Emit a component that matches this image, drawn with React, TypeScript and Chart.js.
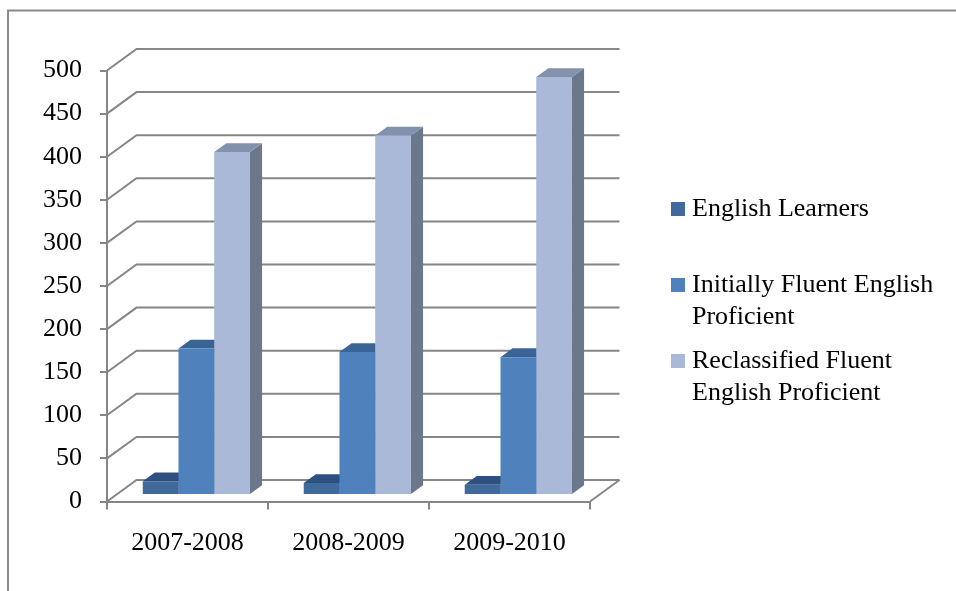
import React, { useEffect, useRef } from "react";
import { Chart, registerables } from "chart.js";

Chart.register(...registerables);

const categories = ["2007-2008", "2008-2009", "2009-2010"];
const englishLearners = [16, 14, 12];
const initiallyFluent = [170, 166, 160];
const reclassifiedFluent = [398, 417, 485];
const seriesNames = [
  "English Learners",
  "Initially Fluent English Proficient",
  "Reclassified Fluent English Proficient",
];
const legendLines = [
  ["English Learners"],
  ["Initially Fluent English", "Proficient"],
  ["Reclassified Fluent", "English Proficient"],
];
const yMin = 0;
const yMax = 500;
const yStep = 50;

const FONT = "'Liberation Serif', 'Times New Roman', serif";
const GRID = "#868686";
const FRONT = ["#40699c", "#4f81bd", "#aab9d8"];
const TOPC = ["#2e5080", "#3a6496", "#8391ad"];
const SIDE = ["#2c4a72", "#3a5f8c", "#6b778b"];

// 3D projection constants (wall depth)
const DX = 29.5;
const DY = 21.5;
const FRONT_FRAC = 0.3;
const DEPTH_FRAC = 0.41;

const poly = (ctx: CanvasRenderingContext2D, pts: number[][], color: string) => {
  ctx.beginPath();
  ctx.moveTo(pts[0][0], pts[0][1]);
  for (let i = 1; i < pts.length; i++) ctx.lineTo(pts[i][0], pts[i][1]);
  ctx.closePath();
  ctx.fillStyle = color;
  ctx.fill();
};

const depthPlugin = {
  id: "depth3d",
  beforeDatasetsDraw(chart: any) {
    const { ctx, chartArea: a } = chart;
    const ys = chart.scales.y;
    const fx = DX * FRONT_FRAC;
    const fy = DY * FRONT_FRAC;
    const bx = DX * DEPTH_FRAC;
    const by = DY * DEPTH_FRAC;
    ctx.save();
    ctx.strokeStyle = GRID;
    ctx.lineWidth = 2;
    ys.ticks.forEach((t: any) => {
      const py = ys.getPixelForValue(t.value);
      ctx.beginPath();
      ctx.moveTo(a.left, py);
      ctx.lineTo(a.left + DX, py - DY);
      ctx.lineTo(a.right + DX, py - DY);
      ctx.stroke();
    });
    const y0 = ys.getPixelForValue(0);
    ctx.beginPath();
    ctx.moveTo(a.right, y0);
    ctx.lineTo(a.right + DX, y0 - DY);
    ctx.stroke();

    const n = chart.data.labels.length;
    const nd = chart.data.datasets.length;
    for (let i = 0; i < n; i++) {
      for (let d = 0; d < nd; d++) {
        const el = chart.getDatasetMeta(d).data[i];
        const p = el.getProps(["x", "y", "base", "width"], true);
        const x1 = p.x - p.width / 2 + fx;
        const x2 = p.x + p.width / 2 + fx;
        const t = p.y - fy;
        const b = p.base - fy;
        poly(ctx, [[x2, t], [x2 + bx, t - by], [x2 + bx, b - by], [x2, b]], SIDE[d]);
        poly(ctx, [[x1, t], [x2, t], [x2 + bx, t - by], [x1 + bx, t - by]], TOPC[d]);
      }
    }
    ctx.restore();
    ctx.save();
    ctx.translate(fx, -fy);
  },
  afterDatasetsDraw(chart: any) {
    chart.ctx.restore();
  },
  afterDraw(chart: any) {
    const ctx = chart.ctx;
    ctx.save();
    // outer frame
    ctx.strokeStyle = "#8a8a8a";
    ctx.lineWidth = 2;
    ctx.beginPath();
    ctx.moveTo(8, 700);
    ctx.lineTo(8, 10.5);
    ctx.lineTo(1000, 10.5);
    ctx.stroke();
    // legend
    const lx = 671;
    const tx = 692;
    const firstLine = [209, 285, 361];
    const lineH = 32;
    ctx.font = `26px ${FONT}`;
    ctx.textBaseline = "middle";
    ctx.textAlign = "left";
    ctx.fillStyle = "#000";
    legendLines.forEach((lines, i) => {
      const cy = firstLine[i];
      ctx.fillStyle = FRONT[i];
      ctx.fillRect(lx, cy - 7, 14, 14);
      ctx.fillStyle = "#000";
      lines.forEach((ln, j) => ctx.fillText(ln, tx, cy + j * lineH));
    });
    ctx.restore();
  },
};

export default function App() {
  const ref = useRef<HTMLCanvasElement | null>(null);
  useEffect(() => {
    if (!ref.current) return;
    const series = [englishLearners, initiallyFluent, reclassifiedFluent];
    const chart = new Chart(ref.current, {
      type: "bar",
      data: {
        labels: categories,
        datasets: series.map((s, i) => ({
          label: seriesNames[i],
          data: s,
          backgroundColor: FRONT[i],
          borderWidth: 0,
          categoryPercentage: 0.666,
          barPercentage: 1.0,
        })),
      },
      options: {
        responsive: false,
        animation: false,
        layout: { padding: { top: 70.5, right: 366, left: 0, bottom: 0 } },
        plugins: { legend: { display: false }, tooltip: { enabled: false } },
        scales: {
          x: {
            grid: { drawOnChartArea: false, drawTicks: true, tickLength: 8, color: GRID, lineWidth: 2, offset: true },
            border: { color: GRID, width: 2 },
            ticks: { color: "#000", font: { family: FONT, size: 26 }, padding: 18, maxRotation: 0 },
            afterFit: (s: any) => { s.height = 89.5; },
          },
          y: {
            min: yMin,
            max: yMax,
            grid: { drawOnChartArea: false, drawTicks: true, tickLength: 7, color: GRID, lineWidth: 2 },
            border: { color: GRID, width: 2 },
            ticks: { stepSize: yStep, color: "#000", font: { family: FONT, size: 26 }, padding: 18 },
            afterFit: (s: any) => { s.width = 107; },
          },
        },
      },
      plugins: [depthPlugin],
    } as any);
    return () => chart.destroy();
  }, []);
  return (
    <div style={{ position: "fixed", left: 0, top: 0, width: 956, height: 591, background: "#fff" }}>
      <canvas ref={ref} width={956} height={591} />
    </div>
  );
}
